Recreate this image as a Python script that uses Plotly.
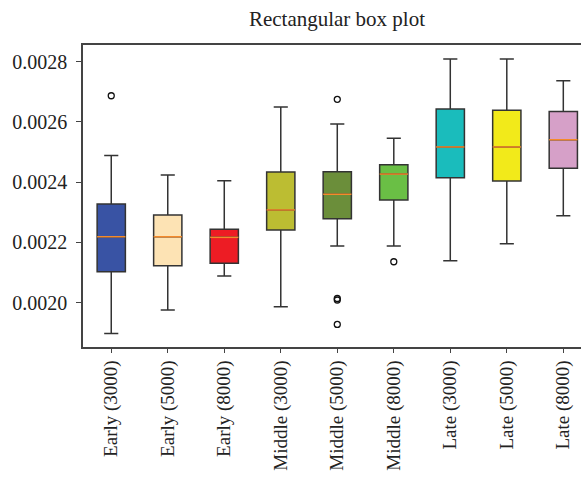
import plotly.graph_objects as go

categories = ["Early (3000)", "Early (5000)", "Early (8000)",
              "Middle (3000)", "Middle (5000)", "Middle (8000)",
              "Late (3000)", "Late (5000)", "Late (8000)"]
lower_whisker = [0.001898, 0.001976, 0.002089, 0.001987, 0.002188, 0.002188, 0.002139, 0.002196, 0.002289]
q1_vals = [0.002103, 0.002123, 0.002131, 0.002241, 0.002279, 0.002341, 0.002415, 0.002404, 0.002446]
median_vals = [0.002219, 0.002219, 0.002217, 0.002308, 0.002360, 0.002427, 0.002517, 0.002517, 0.002541]
q3_vals = [0.002328, 0.002291, 0.002244, 0.002434, 0.002435, 0.002458, 0.002643, 0.002639, 0.002635]
upper_whisker = [0.002489, 0.002424, 0.002405, 0.002650, 0.002593, 0.002546, 0.002809, 0.002809, 0.002737]
outlier_cat = [0, 4, 4, 4, 4, 5]
outlier_vals = [0.002687, 0.002675, 0.002014, 0.002009, 0.001928, 0.002136]
box_colors = ["#3953a4", "#fde3b4", "#ed1c24", "#bcbd32", "#6b8e3a",
              "#6abf45", "#1abcbc", "#f2ea1a", "#d6a0c8"]
y_ticks = [0.0020, 0.0022, 0.0024, 0.0026, 0.0028]

positions = list(range(1, len(categories) + 1))
fig = go.Figure()
for i, cat in enumerate(categories):
    fig.add_trace(go.Box(
        x=[positions[i]], q1=[q1_vals[i]], median=[median_vals[i]], q3=[q3_vals[i]],
        lowerfence=[lower_whisker[i]], upperfence=[upper_whisker[i]],
        fillcolor=box_colors[i], line=dict(color="#333333", width=1.5),
        width=0.5, whiskerwidth=0.5, boxpoints=False, name=cat, showlegend=False,
        hoverinfo="skip"))

mx, my = [], []
for i in range(len(categories)):
    mx += [positions[i] - 0.25, positions[i] + 0.25, None]
    my += [median_vals[i], median_vals[i], None]
fig.add_trace(go.Scatter(x=mx, y=my, mode="lines", line=dict(color="#f58a2a", width=1.5),
                         showlegend=False, hoverinfo="skip"))
fig.add_trace(go.Scatter(x=[positions[c] for c in outlier_cat], y=outlier_vals, mode="markers",
                         marker=dict(symbol="circle-open", size=6, color="#111111",
                                     line=dict(width=1.3)),
                         showlegend=False, hoverinfo="skip"))

font_family = "Liberation Serif"
fig.update_layout(
    width=581, height=484,
    margin=dict(l=83, r=0, t=45, b=137, autoexpand=False),
    plot_bgcolor="white", paper_bgcolor="white",
    font=dict(family=font_family, size=19, color="#222222"),
    title=dict(text="Rectangular box plot", x=0.51, xref="paper", xanchor="center",
               y=1 - 19 / 484, yref="container", yanchor="middle",
               font=dict(family=font_family, size=21, color="#222222")),
    xaxis=dict(range=[0.5, 0.5 + 497.5 / 56.45], tickvals=positions, ticktext=categories,
               tickangle=-90, showgrid=False, zeroline=False, showline=True,
               linecolor="#444444", linewidth=1.5, mirror=True, ticks="outside",
               ticklen=4, tickcolor="#444444", tickfont=dict(size=19),
               automargin=False, ticklabeloverflow="allow"),
    yaxis=dict(range=[0.001853, 0.0028554], tickvals=y_ticks, tickformat=".4f",
               showgrid=False, zeroline=False, showline=True, linecolor="#444444",
               linewidth=1.5, ticks="outside", ticklen=5, tickcolor="#444444",
               tickfont=dict(size=20), automargin=False, ticklabelstandoff=5),
)
fig.write_html("out.html", config={"displayModeBar": False},
               post_script="document.body.style.margin='0';document.body.style.overflow='hidden';")
